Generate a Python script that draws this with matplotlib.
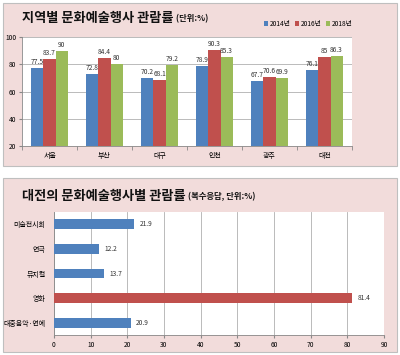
import matplotlib
matplotlib.use("Agg")
import matplotlib.pyplot as plt
from matplotlib.patches import Rectangle
import numpy as np

plt.rcParams['font.family'] = ['Noto Sans CJK KR', 'DejaVu Sans']

regions = ['서울', '부산', '대구', '인천', '광주', '대전']
years = ['2014년', '2016년', '2018년']
v2014 = [77.5, 72.8, 70.2, 78.9, 67.7, 76.1]
v2016 = [83.7, 84.4, 68.1, 90.3, 70.6, 85]
v2018 = [90, 80, 79.2, 85.3, 69.9, 86.3]

events = ['미술전시회', '연극', '뮤지컬', '영화', '대중음악·연예']
rates = [21.9, 12.2, 13.7, 81.4, 20.9]

blue = '#4f81bd'
red = '#c0504d'
green = '#9bbb59'
pink = '#f2dcdb'

fig = plt.figure(figsize=(4, 3.55), dpi=100)
fig.patch.set_facecolor('white')

def px_rect(x0, y0, x1, y1):
    return Rectangle((x0 / 400, 1 - y1 / 355), (x1 - x0) / 400, (y1 - y0) / 355,
                     transform=fig.transFigure, facecolor=pink, edgecolor='#bfbfbf',
                     linewidth=0.8, zorder=-10)

fig.patches.append(px_rect(3, 3, 397, 166))
fig.patches.append(px_rect(3, 178, 397, 352))

# ---- top chart ----
ax1 = fig.add_axes([22 / 400, 1 - 146 / 355, 330 / 400, 109 / 355])
ax1.set_facecolor('white')
x = np.arange(len(regions))
w = 0.22
series = [(v2014, blue), (v2016, red), (v2018, green)]
for i, (vals, c) in enumerate(series):
    bars = ax1.bar(x + (i - 1) * w, vals, width=w, color=c, label=years[i], zorder=3)
    for b, v in zip(bars, vals):
        ax1.text(b.get_x() + b.get_width() / 2, v + 1.5, f'{v:g}', ha='center', va='bottom',
                 fontsize=4.8, color='#333333', zorder=4)
ax1.set_ylim(20, 100)
ax1.set_xlim(-0.5, len(regions) - 0.5)
ax1.set_yticks([20, 40, 60, 80, 100])
ax1.yaxis.grid(True, color='#b0b0b0', linewidth=0.6, zorder=0)
ax1.set_xticks(x)
ax1.set_xticklabels(regions)
ax1.set_xticks(np.arange(-0.5, len(regions), 1), minor=True)
ax1.tick_params(axis='x', which='major', length=0, labelsize=5, pad=4)
ax1.tick_params(axis='x', which='minor', length=3, color='#888888')
ax1.tick_params(axis='y', labelsize=4.8, length=2, color='#888888', pad=2)
for s in ['top', 'right']:
    ax1.spines[s].set_visible(False)
for s in ['left', 'bottom']:
    ax1.spines[s].set_color('#888888')
    ax1.spines[s].set_linewidth(0.6)
ax1.legend(loc='lower right', bbox_to_anchor=(1.01, 1.06), ncol=3, fontsize=4.8,
           frameon=False, handlelength=0.6, handleheight=0.6, handletextpad=0.3,
           columnspacing=0.6, borderaxespad=0)

t1 = fig.text(22 / 400, 1 - 18 / 355, '지역별 문화예술행사 관람률', fontsize=9.5,
              fontweight='bold', va='center', ha='left', color='#111111')
ax1.annotate(' (단위:%)', xy=(1, 0.12), xycoords=t1, fontsize=6, fontweight='bold',
             va='bottom', ha='left', color='#111111', annotation_clip=False)

# ---- bottom chart ----
ax2 = fig.add_axes([54 / 400, 1 - 335 / 355, 330 / 400, 123 / 355])
ax2.set_facecolor('white')
y = np.arange(len(events))
colors = [red if e == '영화' else blue for e in events]
hb = ax2.barh(y, rates, height=0.4, color=colors, zorder=3)
for b, v in zip(hb, rates):
    ax2.text(v + 1.5, b.get_y() + b.get_height() / 2, f'{v:g}', ha='left', va='center',
             fontsize=4.8, color='#333333', zorder=4)
ax2.set_xlim(0, 90)
ax2.set_ylim(len(events) - 0.5, -0.5)
ax2.set_xticks(range(0, 91, 10))
ax2.set_yticks(y)
ax2.set_yticklabels(events)
ax2.xaxis.grid(True, color='#b0b0b0', linewidth=0.6, zorder=0)
ax2.tick_params(axis='x', labelsize=4.8, length=2, color='#888888', pad=2)
ax2.tick_params(axis='y', labelsize=5, length=0, pad=6)
for s in ['top', 'right']:
    ax2.spines[s].set_visible(False)
for s in ['left', 'bottom']:
    ax2.spines[s].set_color('#888888')
    ax2.spines[s].set_linewidth(0.6)

t2 = fig.text(22 / 400, 1 - 196 / 355, '대전의 문화예술행사별 관람률', fontsize=9.5,
              fontweight='bold', va='center', ha='left', color='#111111')
ax2.annotate(' (복수응답, 단위:%)', xy=(1, 0.12), xycoords=t2, fontsize=6,
             fontweight='bold', va='bottom', ha='left', color='#111111', annotation_clip=False)

fig.savefig('out.png', dpi=100, facecolor=fig.get_facecolor())
